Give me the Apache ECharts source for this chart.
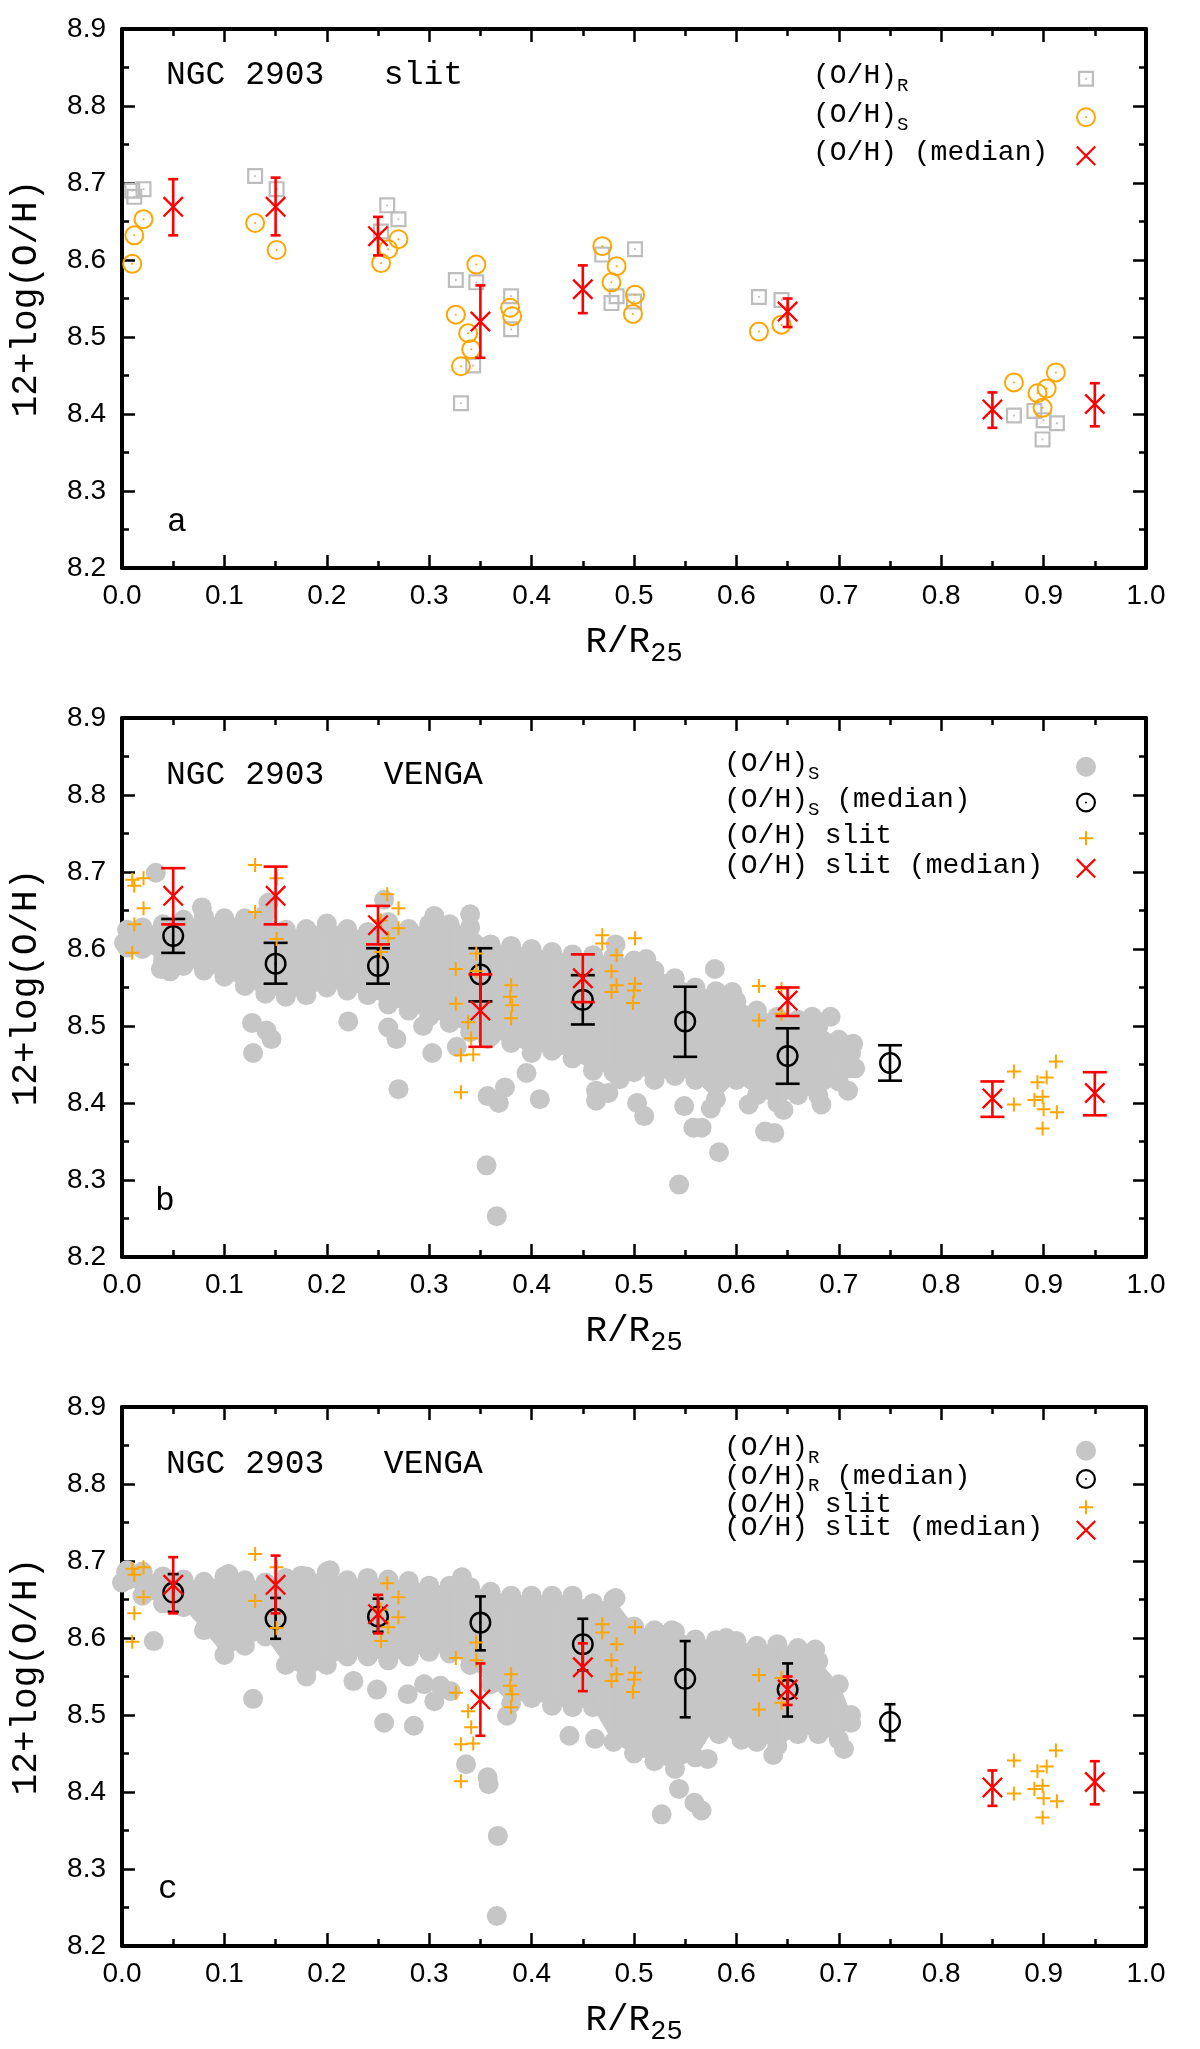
<!DOCTYPE html>
<html>
<head>
<meta charset="utf-8">
<script src="https://cdn.jsdelivr.net/npm/echarts@6/dist/echarts.min.js"></script>
<style>
  html, body { margin: 0; background: #fff; }
  #main { width: 1200px; height: 2049px; }
</style>
</head>
<body>
<div id="main"></div>
<script>
// slit measurements, [R/R25, 12+log(O/H)]
var slitR = [
  [0.010, 8.690], [0.012, 8.682], [0.021, 8.692], [0.130, 8.709], [0.151, 8.692],
  [0.253, 8.637], [0.259, 8.671], [0.270, 8.653], [0.326, 8.574], [0.346, 8.571],
  [0.343, 8.463], [0.331, 8.414], [0.380, 8.553], [0.380, 8.510], [0.469, 8.607],
  [0.501, 8.614], [0.478, 8.544], [0.483, 8.553], [0.500, 8.546], [0.622, 8.552],
  [0.644, 8.548], [0.871, 8.398], [0.891, 8.404], [0.900, 8.392], [0.913, 8.388],
  [0.899, 8.367]
];
var slitS = [
  [0.010, 8.595], [0.012, 8.632], [0.021, 8.653], [0.130, 8.648], [0.151, 8.613],
  [0.253, 8.596], [0.260, 8.614], [0.270, 8.627], [0.326, 8.529], [0.338, 8.505],
  [0.341, 8.484], [0.331, 8.462], [0.346, 8.594], [0.379, 8.538], [0.381, 8.527],
  [0.469, 8.618], [0.483, 8.592], [0.478, 8.571], [0.501, 8.555], [0.499, 8.530],
  [0.622, 8.507], [0.644, 8.516], [0.871, 8.441], [0.894, 8.427], [0.903, 8.433],
  [0.912, 8.454], [0.899, 8.408]
];
// medians, [R/R25, median, low, high]
var slitMedian = [
  [0.05, 8.669, 8.632, 8.705], [0.15, 8.669, 8.632, 8.707], [0.25, 8.631, 8.606, 8.656],
  [0.35, 8.520, 8.473, 8.567], [0.45, 8.562, 8.531, 8.593], [0.65, 8.533, 8.513, 8.550],
  [0.85, 8.406, 8.382, 8.428], [0.95, 8.413, 8.384, 8.440]
];
var vengaSMedian = [
  [0.05, 8.617, 8.595, 8.639], [0.15, 8.581, 8.555, 8.608], [0.25, 8.578, 8.555, 8.601],
  [0.35, 8.567, 8.532, 8.601], [0.45, 8.534, 8.502, 8.566], [0.55, 8.506, 8.460, 8.551],
  [0.65, 8.461, 8.425, 8.497], [0.75, 8.452, 8.429, 8.475]
];
var vengaRMedian = [
  [0.05, 8.659, 8.634, 8.683], [0.15, 8.625, 8.599, 8.652], [0.25, 8.628, 8.608, 8.651],
  [0.35, 8.620, 8.584, 8.654], [0.45, 8.592, 8.558, 8.625], [0.55, 8.547, 8.497, 8.596],
  [0.65, 8.533, 8.498, 8.567], [0.75, 8.491, 8.467, 8.514]
];
// VENGA spaxels: dense part as [R/R25, lowest, highest] of the point centres, plus loose points
var vengaSBand = [
  [0.005, 8.602, 8.625], [0.02, 8.600, 8.628], [0.04, 8.585, 8.632], [0.06, 8.578, 8.638],
  [0.08, 8.572, 8.642], [0.10, 8.564, 8.640], [0.12, 8.552, 8.640], [0.14, 8.542, 8.645],
  [0.16, 8.538, 8.625], [0.18, 8.540, 8.626], [0.20, 8.550, 8.633], [0.22, 8.546, 8.626],
  [0.24, 8.540, 8.622], [0.26, 8.528, 8.635], [0.28, 8.520, 8.626], [0.30, 8.512, 8.632],
  [0.32, 8.504, 8.632], [0.34, 8.492, 8.628], [0.36, 8.486, 8.606], [0.38, 8.478, 8.604],
  [0.40, 8.465, 8.600], [0.42, 8.468, 8.596], [0.44, 8.458, 8.593], [0.46, 8.442, 8.592],
  [0.48, 8.440, 8.590], [0.50, 8.440, 8.585], [0.52, 8.430, 8.572], [0.54, 8.435, 8.562],
  [0.56, 8.430, 8.550], [0.58, 8.405, 8.545], [0.60, 8.430, 8.532], [0.62, 8.410, 8.520],
  [0.64, 8.400, 8.512], [0.66, 8.410, 8.508], [0.68, 8.410, 8.500], [0.70, 8.428, 8.482],
  [0.712, 8.445, 8.465]
];
var vengaSSpots = [
  [0.002, 8.608], [0.033, 8.699], [0.038, 8.574], [0.047, 8.571], [0.127, 8.504],
  [0.141, 8.494], [0.146, 8.483], [0.128, 8.465], [0.221, 8.506], [0.260, 8.498],
  [0.268, 8.483], [0.270, 8.418], [0.303, 8.465], [0.294, 8.500], [0.256, 8.664],
  [0.305, 8.643], [0.340, 8.645], [0.327, 8.473], [0.357, 8.483], [0.357, 8.409],
  [0.368, 8.400], [0.374, 8.420], [0.356, 8.319], [0.366, 8.253], [0.395, 8.439],
  [0.408, 8.405], [0.463, 8.416], [0.463, 8.403], [0.486, 8.431], [0.475, 8.413],
  [0.503, 8.400], [0.510, 8.383], [0.549, 8.396], [0.558, 8.368], [0.566, 8.368],
  [0.583, 8.336], [0.544, 8.294], [0.575, 8.393], [0.612, 8.398], [0.637, 8.361],
  [0.628, 8.363], [0.646, 8.391], [0.683, 8.398], [0.709, 8.416], [0.716, 8.445],
  [0.714, 8.477], [0.579, 8.574], [0.596, 8.544], [0.674, 8.512], [0.692, 8.512],
  [0.512, 8.587], [0.482, 8.606], [0.143, 8.660], [0.078, 8.654]
];
var vengaRBand = [
  [0.005, 8.675, 8.688], [0.02, 8.655, 8.686], [0.04, 8.645, 8.680], [0.06, 8.640, 8.676],
  [0.08, 8.610, 8.673], [0.10, 8.578, 8.680], [0.12, 8.590, 8.675], [0.14, 8.602, 8.672],
  [0.16, 8.565, 8.678], [0.18, 8.550, 8.680], [0.20, 8.565, 8.686], [0.22, 8.576, 8.675],
  [0.24, 8.576, 8.678], [0.26, 8.571, 8.676], [0.28, 8.576, 8.674], [0.30, 8.582, 8.668],
  [0.32, 8.580, 8.668], [0.34, 8.565, 8.666], [0.36, 8.540, 8.660], [0.38, 8.515, 8.655],
  [0.40, 8.522, 8.655], [0.42, 8.512, 8.655], [0.44, 8.510, 8.655], [0.46, 8.510, 8.645],
  [0.48, 8.465, 8.650], [0.50, 8.450, 8.615], [0.52, 8.440, 8.610], [0.54, 8.430, 8.608],
  [0.56, 8.445, 8.598], [0.58, 8.487, 8.597], [0.60, 8.480, 8.596], [0.62, 8.465, 8.590],
  [0.64, 8.460, 8.592], [0.66, 8.475, 8.587], [0.68, 8.475, 8.570], [0.70, 8.468, 8.540],
  [0.712, 8.490, 8.500]
];
var vengaRSpots = [
  [0.004, 8.686], [0.020, 8.686], [0.031, 8.596], [0.128, 8.521], [0.226, 8.544],
  [0.249, 8.533], [0.256, 8.490], [0.285, 8.486], [0.279, 8.527], [0.295, 8.540],
  [0.305, 8.518], [0.311, 8.538], [0.321, 8.531], [0.336, 8.436], [0.357, 8.419],
  [0.358, 8.410], [0.367, 8.343], [0.366, 8.239], [0.437, 8.473], [0.462, 8.469],
  [0.376, 8.499], [0.527, 8.371], [0.559, 8.386], [0.566, 8.376], [0.544, 8.404],
  [0.572, 8.443], [0.583, 8.475], [0.605, 8.468], [0.636, 8.448], [0.705, 8.456],
  [0.332, 8.679], [0.482, 8.652], [0.537, 8.610], [0.590, 8.600], [0.677, 8.585],
  [0.203, 8.688], [0.175, 8.681], [0.104, 8.683], [0.000, 8.672]
];
var slitAll = slitR.concat(slitS);

var legendText = {
  aR: '{m|(O/H)}{s|R}', aS: '{m|(O/H)}{s|S}', aMed: '{m|(O/H) (median)}',
  bS: '{m|(O/H)}{s|S}', bSMed: '{m|(O/H)}{s|S}{m| (median)}', bSlit: '{m|(O/H) slit}', bMed: '{m|(O/H) slit (median)}',
  cR: '{m|(O/H)}{s|R}', cRMed: '{m|(O/H)}{s|R}{m| (median)}', cSlit: '{m|(O/H) slit}', cMed: '{m|(O/H) slit (median)}'
};
var panelTitle = ['NGC 2903   slit', 'NGC 2903   VENGA', 'NGC 2903   VENGA'];
var panelTag = ['a', 'b', 'c'];

var MONO = '"Liberation Mono", "DejaVu Sans Mono", monospace';
var SANS = '"Liberation Sans", Arial, sans-serif';
var RED = '#ff0000', ORANGE = '#ffa500', GRAY = '#c6c6c6', SQGRAY = '#bdbdbd';

var RING = 'path://M0,-10A10,10,0,1,1,0,10A10,10,0,1,1,0,-10ZM0,-8A8,8,0,1,0,0,8A8,8,0,1,0,0,-8ZM0,-1A1,1,0,1,1,0,1A1,1,0,1,1,0,-1Z';
var RING_K = 'path://M0,-11A11,11,0,1,1,0,11A11,11,0,1,1,0,-11ZM0,-8.6A8.6,8.6,0,1,0,0,8.6A8.6,8.6,0,1,0,0,-8.6ZM0,-1.1A1.1,1.1,0,1,1,0,1.1A1.1,1.1,0,1,1,0,-1.1Z';
var SQUARE = 'path://M-8,-8L8,-8L8,8L-8,8ZM-5.8,-5.8L-5.8,5.8L5.8,5.8L5.8,-5.8ZM-0.9,-0.9L0.9,-0.9L0.9,0.9L-0.9,0.9Z';
var SQUARE_ICON = 'path://M-10,-10L-10,-10M10,10L10,10M-8,-8L8,-8L8,8L-8,8ZM-5.8,-5.8L-5.8,5.8L5.8,5.8L5.8,-5.8ZM-0.9,-0.9L0.9,-0.9L0.9,0.9L-0.9,0.9Z';
var CROSS = 'path://M-9.15,-10.85L10.85,9.15L9.15,10.85L-10.85,-9.15ZM-9.15,10.85L-10.85,9.15L9.15,-10.85L10.85,-9.15Z';
var PLUS = 'path://M-1,-7L1,-7L1,-1L7,-1L7,1L1,1L1,7L-1,7L-1,1L-7,1L-7,-1L-1,-1Z';
var PLUS_ICON = 'path://M-10,-10L-10,-10M10,10L10,10M-1,-7L1,-7L1,-1L7,-1L7,1L1,1L1,7L-1,7L-1,1L-7,1L-7,-1L-1,-1Z';

var GRID_TOP = [29, 718, 1407];
var GL = 113, GW = 1033, GH = 539;

var grids = [], xAxes = [], yAxes = [], series = [], legends = [], graphics = [];

function tickStyle() {
  return {
    axisLine: {show: true, onZero: false, lineStyle: {color: '#000', width: 4}},
    axisTick: {show: true, inside: true, length: 13, lineStyle: {color: '#000', width: 2.5}},
    minorTick: {show: true, splitNumber: 2, length: 7, lineStyle: {color: '#000', width: 2.5}},
    splitLine: {show: false}
  };
}

GRID_TOP.forEach(function (top, i) {
  grids.push({left: GL, top: top, width: GW, height: GH, containLabel: false});
  var xb = Object.assign(tickStyle(), {
    type: 'value', gridIndex: i, position: 'bottom', min: 0, max: 1, interval: 0.1,
    axisLabel: {show: true, margin: 14, color: '#000', fontFamily: SANS, fontSize: 28,
      showMinLabel: true, showMaxLabel: true,
      formatter: function (v) { return v.toFixed(1); }},
    name: '{m|R/R}{s|25}', nameLocation: 'middle', nameGap: 56,
    nameTextStyle: {rich: {
      m: {fontFamily: MONO, fontSize: 36, lineHeight: 43, verticalAlign: 'top', color: '#000'},
      s: {fontFamily: MONO, fontSize: 27, lineHeight: 43, verticalAlign: 'bottom', color: '#000'}
    }}
  });
  var xt = Object.assign(tickStyle(), {
    type: 'value', gridIndex: i, position: 'top', min: 0, max: 1, interval: 0.1,
    axisLabel: {show: false}
  });
  var yl = Object.assign(tickStyle(), {
    type: 'value', gridIndex: i, position: 'left', min: 8.2, max: 8.9, interval: 0.1,
    axisLabel: {show: true, margin: 16, color: '#000', fontFamily: SANS, fontSize: 28,
      showMinLabel: true, showMaxLabel: true,
      formatter: function (v) { return v.toFixed(1); }},
    name: '12+log(O/H)', nameLocation: 'middle', nameGap: 78,
    nameTextStyle: {fontFamily: MONO, fontSize: 36, color: '#000'}
  });
  var yr = Object.assign(tickStyle(), {
    type: 'value', gridIndex: i, position: 'right', min: 8.2, max: 8.9, interval: 0.1,
    axisLabel: {show: false}
  });
  xAxes.push(xb, xt);
  yAxes.push(yl, yr);
});

function pts(name, data, gi, symbol, size, color, z) {
  return {
    name: name, type: 'scatter', xAxisIndex: gi * 2, yAxisIndex: gi * 2,
    data: data, symbol: symbol, symbolSize: size, silent: true, z: z,
    itemStyle: {color: color, opacity: 1}
  };
}

function errBars(name, data, gi, color, cap, z) {
  return {
    name: name, type: 'custom', xAxisIndex: gi * 2, yAxisIndex: gi * 2,
    data: data, encode: {x: 0, y: [1, 2, 3]}, silent: true, z: z,
    renderItem: function (params, api) {
      var x = api.value(0);
      var p = api.coord([x, api.value(2)]);
      var q = api.coord([x, api.value(3)]);
      var st = {stroke: color, lineWidth: 2.6};
      return {type: 'group', children: [
        {type: 'line', shape: {x1: p[0], y1: p[1], x2: q[0], y2: q[1]}, style: st},
        {type: 'line', shape: {x1: p[0] - cap / 2, y1: p[1], x2: p[0] + cap / 2, y2: p[1]}, style: st},
        {type: 'line', shape: {x1: q[0] - cap / 2, y1: q[1], x2: q[0] + cap / 2, y2: q[1]}, style: st}
      ]};
    }
  };
}

function cloud(name, band, gi) {
  return {
    name: name, type: 'custom', xAxisIndex: gi * 2, yAxisIndex: gi * 2,
    data: band, encode: {x: 0, y: [1, 2]}, silent: true, z: 1,
    renderItem: function (params, api) {
      var i = params.dataIndex, row = band[i];
      var lo = api.coord([row[0], row[1]]), hi = api.coord([row[0], row[2]]);
      var st = {fill: GRAY};
      var kids = [
        {type: 'circle', shape: {cx: lo[0], cy: lo[1], r: 10}, style: st},
        {type: 'circle', shape: {cx: hi[0], cy: hi[1], r: 10}, style: st}
      ];
      if (i < band.length - 1) {
        var nx = band[i + 1];
        kids.push({type: 'polygon',
          shape: {points: [lo, api.coord([nx[0], nx[1]]), api.coord([nx[0], nx[2]]), hi]},
          style: {fill: GRAY, stroke: GRAY, lineWidth: 1}});
      }
      return {type: 'group', children: kids};
    }
  };
}

// panel a
series.push(
  pts('aR', slitR, 0, SQUARE, 16, SQGRAY, 2),
  pts('aS', slitS, 0, RING, 20, ORANGE, 3),
  errBars('aMedErr', slitMedian, 0, RED, 10, 4),
  pts('aMed', slitMedian, 0, CROSS, 21, RED, 5)
);
// panel b
series.push(
  cloud('bBand', vengaSBand, 1),
  pts('bS', vengaSSpots, 1, 'circle', 20, GRAY, 1),
  errBars('bSMedErr', vengaSMedian, 1, '#000', 24, 3),
  pts('bSMed', vengaSMedian, 1, RING_K, 22, '#000', 3),
  pts('bSlit', slitAll, 1, PLUS, 14, ORANGE, 4),
  errBars('bMedErr', slitMedian, 1, RED, 24, 5),
  pts('bMed', slitMedian, 1, CROSS, 21, RED, 5)
);
// panel c
series.push(
  cloud('cBand', vengaRBand, 2),
  pts('cR', vengaRSpots, 2, 'circle', 20, GRAY, 1),
  errBars('cRMedErr', vengaRMedian, 2, '#000', 11, 3),
  pts('cRMed', vengaRMedian, 2, RING_K, 22, '#000', 3),
  pts('cSlit', slitAll, 2, PLUS, 14, ORANGE, 4),
  errBars('cMedErr', slitMedian, 2, RED, 10, 5),
  pts('cMed', slitMedian, 2, CROSS, 21, RED, 5)
);

// main text sits at the top of each legend line, subscripts at the bottom
var LEG_LINE = 33.5;
function legend(items, left, top, width, gap) {
  return {
    orient: 'vertical', align: 'right', left: left, top: top, padding: 0,
    itemGap: gap, itemWidth: 20, itemHeight: 20, selectedMode: false,
    data: items,
    formatter: function (name) { return legendText[name]; },
    textStyle: {
      width: width, color: '#000',
      rich: {
        m: {fontFamily: MONO, fontSize: 28, lineHeight: LEG_LINE, align: 'left', verticalAlign: 'top', color: '#000'},
        s: {fontFamily: MONO, fontSize: 19, lineHeight: LEG_LINE, align: 'left', verticalAlign: 'bottom', color: '#000'}
      }
    }
  };
}
legends.push(
  legend([{name: 'aR', icon: SQUARE_ICON}, 'aS', 'aMed'], 813, 62, 258, 5),
  legend(['bS', 'bSMed', {name: 'bSlit', icon: PLUS_ICON}, 'bMed'], 724, 750, 347, 2.2),
  legend(['cR', 'cRMed', {name: 'cSlit', icon: PLUS_ICON}, 'cMed'], 724, 1434, 347, -5.2)
);

var titleY = [75, 775, 1464];
var tagPos = [[167, 522], [155, 1201], [158, 1889]];
titleY.forEach(function (y, i) {
  graphics.push({type: 'text', x: 166, y: y, silent: true,
    style: {text: panelTitle[i], font: '33px ' + MONO, fill: '#000', verticalAlign: 'middle'}});
  graphics.push({type: 'text', x: tagPos[i][0], y: tagPos[i][1], silent: true,
    style: {text: panelTag[i], font: '33px ' + MONO, fill: '#000', verticalAlign: 'middle'}});
});

var chart = echarts.init(document.getElementById('main'));
chart.setOption({
  backgroundColor: '#fff',
  animation: false,
  grid: grids,
  xAxis: xAxes,
  yAxis: yAxes,
  legend: legends,
  graphic: graphics,
  series: series
});
</script>
</body>
</html>
